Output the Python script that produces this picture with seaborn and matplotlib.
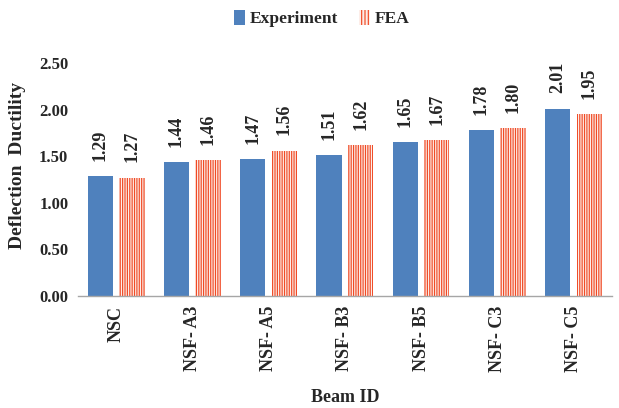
import matplotlib
matplotlib.use("Agg")
import matplotlib.pyplot as plt
from matplotlib.patches import Patch
import pandas as pd
import seaborn as sns

# Deflection ductility per beam: test results vs. finite element analysis
beams = ["NSC", "NSF- A3", "NSF- A5", "NSF- B3", "NSF- B5", "NSF- C3", "NSF- C5"]
experiment = [1.29, 1.44, 1.47, 1.51, 1.65, 1.78, 2.01]
fea = [1.27, 1.46, 1.56, 1.62, 1.67, 1.80, 1.95]
series = ["Experiment", "FEA"]
y_ticks = [0.0, 0.5, 1.0, 1.5, 2.0, 2.5]

BLUE = "#4F81BD"
RED = "#F04A25"
STRIPES = "|||||||"
SERIF = "Liberation Serif"

df = pd.DataFrame({
    "Beam": beams * 2,
    "Ductility": experiment + fea,
    "Series": [series[0]] * len(beams) + [series[1]] * len(beams),
})

sns.set_theme(style="white")
plt.rcParams["font.family"] = [SERIF, "DejaVu Serif"]
plt.rcParams["hatch.linewidth"] = 0.85

fig = plt.figure(figsize=(6.19, 4.08), dpi=100)
ax = fig.add_axes([0.126, 0.2745, 0.862, 0.571])

sns.barplot(data=df, x="Beam", y="Ductility", hue="Series", order=beams,
            hue_order=series, palette=[BLUE, RED], width=0.83, gap=0.2,
            ax=ax, legend=False, saturation=1)

# FEA bars: red vertical stripes on a pale background
for bar in ax.containers[1]:
    bar.set_facecolor("#FDEDE8")
    bar.set_edgecolor(RED)
    bar.set_hatch(STRIPES)
    bar.set_linewidth(0)
for bar in ax.containers[0]:
    bar.set_linewidth(0)

for cont in ax.containers:
    ax.bar_label(cont, fmt="%.2f", rotation=90, padding=11,
                 fontsize=13, fontweight="bold", family=SERIF)

ax.set_ylim(0, 2.5)
ax.set_xlim(-0.5, len(beams) - 0.5)
ax.set_yticks(y_ticks)
ax.set_yticklabels([f"{v:.2f}" for v in y_ticks], fontsize=12,
                   fontweight="bold", family=SERIF)
ax.set_xticks(range(len(beams)))
ax.set_xticklabels(beams, rotation=90, fontsize=13, fontweight="bold",
                   family=SERIF, va="top", ha="center")
ax.tick_params(axis="y", length=0, pad=7)
ax.tick_params(axis="x", length=0, pad=7)

ax.set_ylabel("Deflection  Ductility", fontsize=14, fontweight="bold",
              family=SERIF, labelpad=8)
ax.yaxis.set_label_coords(-0.098, 0.56)
ax.set_xlabel("Beam ID", fontsize=13, fontweight="bold", family=SERIF,
              labelpad=12)

for side in ["top", "right", "left"]:
    ax.spines[side].set_visible(False)
ax.spines["bottom"].set_color("#A6A6A6")
ax.spines["bottom"].set_linewidth(1.0)

handles = [
    Patch(facecolor=BLUE, edgecolor=BLUE, linewidth=0),
    Patch(facecolor="#FDEDE8", edgecolor=RED, hatch="|||||", linewidth=0),
]
fig.legend(handles, series, loc="center", bbox_to_anchor=(0.52, 0.955),
           ncol=2, frameon=False, handlelength=0.6, handleheight=1.0,
           handletextpad=0.3, columnspacing=1.2,
           prop={"family": SERIF, "weight": "bold", "size": 12.5})

fig.savefig("out.png", dpi=100)
